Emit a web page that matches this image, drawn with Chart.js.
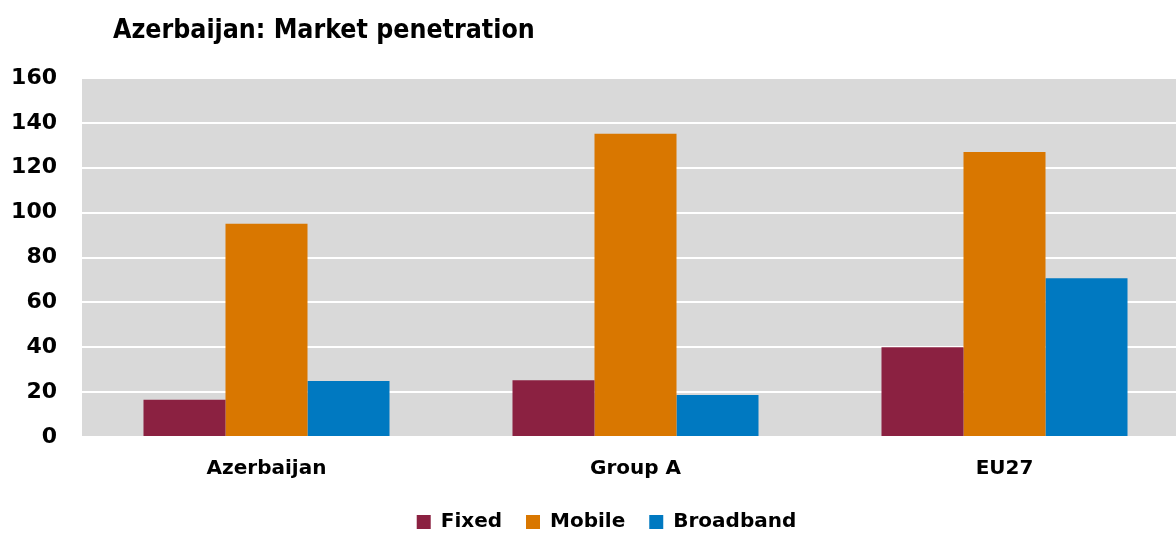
<!DOCTYPE html>
<html lang="en">
  <head>
    <meta charset="UTF-8" />
    <title>Azerbaijan: Market penetration</title>
    <script src="https://cdn.jsdelivr.net/npm/chart.js"></script>
    <style>
      html, body { margin: 0; padding: 0; background: #fff; overflow: hidden; }
      /* plot runs a little past the right edge, so the canvas is clipped */
      .wrap { position: relative; width: 1176px; height: 533px; overflow: hidden; }
    </style>
  </head>
  <body>
    <div class="wrap">
      <canvas id="penetration-chart" width="1189" height="533"></canvas>
    </div>

    <script>
      const chartTitle = "Azerbaijan: Market penetration";
      const categories = ["Azerbaijan", "Group A", "EU27"];
      const seriesNames = ["Fixed", "Mobile", "Broadband"];
      const fixedValues = [16.6, 25.3, 40.0];
      const mobileValues = [95.0, 135.2, 127.0];
      const broadbandValues = [25.0, 18.7, 70.7];
      const yTicks = [0, 20, 40, 60, 80, 100, 120, 140, 160];

      const colors = ["#8B2141", "#D97700", "#0079C1"];

      // grey plot background + title text
      const plotDecor = {
        id: "plotDecor",
        beforeDraw(chart) {
          const { ctx, chartArea: a } = chart;
          ctx.save();
          ctx.fillStyle = "#d9d9d9";
          ctx.fillRect(a.left, a.top, a.right - a.left, a.bottom - a.top);
          ctx.restore();
        },
        afterDraw(chart) {
          const ctx = chart.ctx;
          ctx.save();
          ctx.font = "bold 26.5px 'DejaVu Sans Condensed', 'DejaVu Sans'";
          ctx.fillStyle = "#000";
          ctx.textBaseline = "alphabetic";
          ctx.fillText(chartTitle, 113, 38);
          ctx.restore();
        },
        afterLayout(chart) {
          // nudge legend row to the right
          chart.legend.left += 12;
          chart.legend.right += 12;
        },
      };

      const ctx = document.getElementById("penetration-chart").getContext("2d");
      new Chart(ctx, {
        type: "bar",
        data: {
          labels: categories,
          datasets: [fixedValues, mobileValues, broadbandValues].map((vals, i) => ({
            label: seriesNames[i],
            data: vals,
            backgroundColor: colors[i],
            borderWidth: 0,
            barPercentage: 1,
            categoryPercentage: 0.6667,
          })),
        },
        options: {
          responsive: false,
          animation: false,
          layout: { padding: { top: 78, bottom: -9, right: 0, left: 0 } },
          plugins: {
            title: { display: false },
            tooltip: { enabled: false },
            legend: {
              position: "bottom",
              labels: {
                boxWidth: 14,
                boxHeight: 14,
                padding: 24,
                color: "#000",
                font: { family: "DejaVu Sans", size: 20, weight: "bold" },
              },
            },
          },
          scales: {
            x: {
              grid: { display: false },
              border: { display: false },
              ticks: {
                color: "#000",
                padding: 12,
                font: { family: "DejaVu Sans", size: 20, weight: "bold" },
              },
              afterFit(scale) {
                scale.height = 51;
              },
            },
            y: {
              min: 0,
              max: 160,
              afterBuildTicks(scale) {
                scale.ticks = yTicks.map((v) => ({ value: v }));
              },
              grid: { color: "#ffffff", lineWidth: 2, drawTicks: false },
              border: { display: false },
              ticks: {
                color: "#000",
                padding: 25,
                font: { family: "DejaVu Sans", size: 22, weight: "bold" },
              },
              afterFit(scale) {
                scale.width = 82;
              },
            },
          },
        },
        plugins: [plotDecor],
      });
    </script>
  </body>
</html>
